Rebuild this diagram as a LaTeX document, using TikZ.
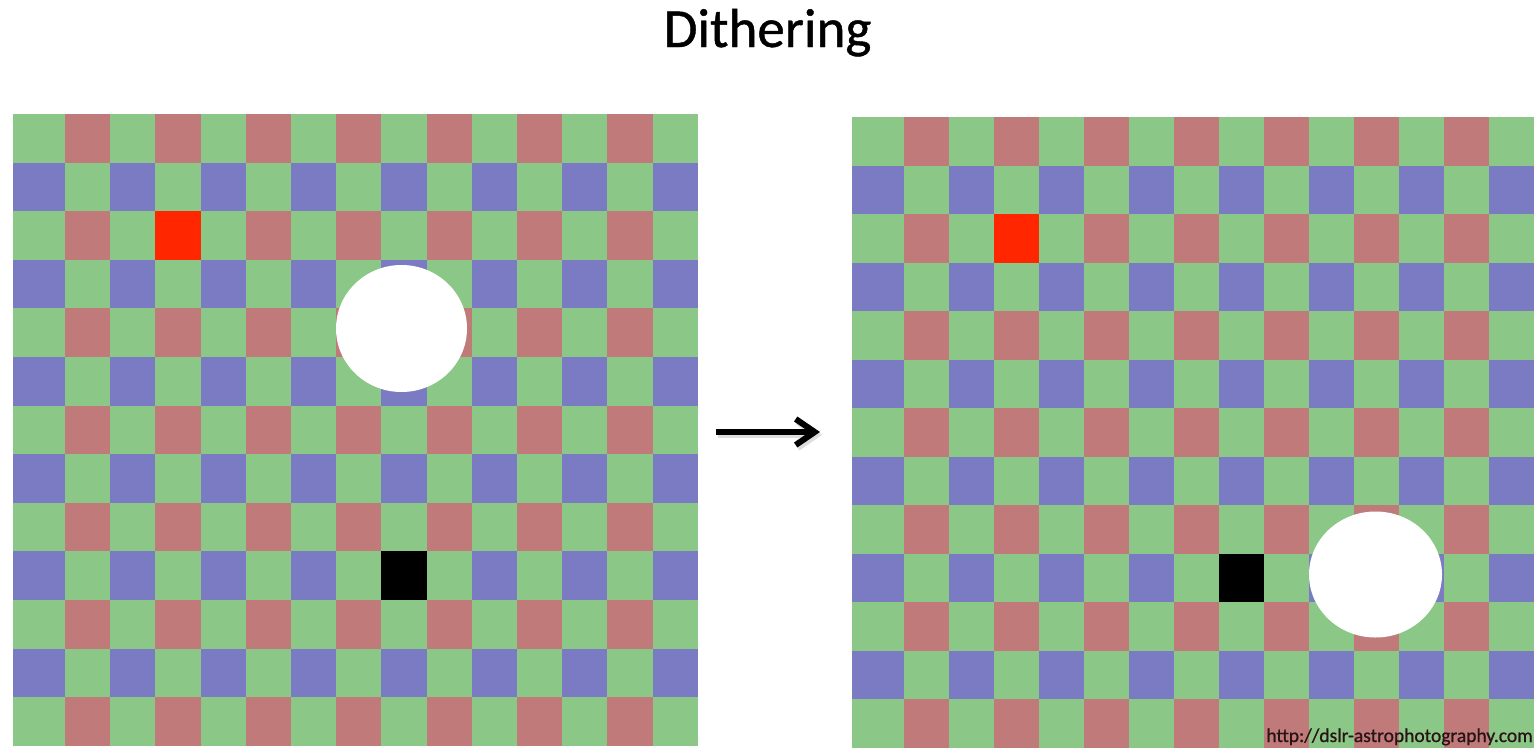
\documentclass[tikz,border=0pt]{standalone}
\usepackage{fontspec}
\setmainfont{Carlito}
\newfontfamily\heavyfont[FakeBold=0.8]{Carlito}
\usetikzlibrary{arrows.meta}
\definecolor{cg}{RGB}{139,199,134}
\definecolor{cr}{RGB}{193,122,122}
\definecolor{cb}{RGB}{123,123,196}
\definecolor{cbright}{RGB}{255,38,0}
\definecolor{wmark}{RGB}{40,20,20}
% #1 = x of left edge, #2 = x of second column edge, #3 = column width,
% #4 = y of top edge, #5 = row height
\newcommand\drawbayer[5]{%
  \foreach \r in {0,...,12}{%
    \foreach \c in {0,...,14}{%
      \pgfmathtruncatemacro\kind{mod(\r,2)*2+mod(\c,2)}%
      \pgfmathsetmacro\xa{\c==0 ? #1 : #2+(\c-1)*#3}%
      \pgfmathsetmacro\xb{#2+\c*#3}%
      \pgfmathsetmacro\ya{#4+\r*#5}%
      \pgfmathsetmacro\yb{#4+(\r+1)*#5}%
      \ifcase\kind \def\cc{cg}\or\def\cc{cr}\or\def\cc{cb}\or\def\cc{cg}\fi
      \fill[\cc] (\xa,\ya) rectangle (\xb,\yb);
    }%
  }%
}
\tikzset{
  hotpix/.style={fill=cbright},
  deadpix/.style={fill=black},
  starblob/.style={fill=white},
  shiftarrow/.style={line width=6pt,-{Straight Barb[length=19pt,width=26pt]}},
  shiftshadow/.style={shiftarrow,draw=black!25,opacity=0.5},
  titletext/.style={font=\heavyfont\fontsize{55}{60}\selectfont, anchor=base, inner sep=0pt},
  marktext/.style={font=\heavyfont\fontsize{19.5}{21}\selectfont, text=wmark, anchor=base east, inner sep=0pt}
}
\begin{document}
\begin{tikzpicture}[x=1pt,y=-1pt]
\useasboundingbox (0,0) rectangle (1534,747);
\fill[white] (0,0) rectangle (1534,747);
% left sensor
\drawbayer{13}{65}{45.2}{114}{48.6}
\fill[hotpix] (155.4,211.2) rectangle (200.6,259.8);
\fill[deadpix] (381.4,551.4) rectangle (426.6,600.0);
\fill[starblob] (401.5,328.5) ellipse [x radius=65.5, y radius=63.5];
% right sensor
\drawbayer{852}{904}{45}{117}{48.5}
\fill[hotpix] (994,214) rectangle (1039,262.5);
\fill[deadpix] (1219,553.5) rectangle (1264,602);
\fill[starblob] (1375.5,574.5) ellipse [x radius=66.5, y radius=63];
% arrow
\coordinate (arrowstart) at (716,432);
\coordinate (arrowend) at (820,432);
\coordinate (shadowstart) at (718,435);
\coordinate (shadowend) at (822,435);
\draw[shiftshadow] (shadowstart) -- (shadowend);
\draw[shiftarrow] (arrowstart) -- (arrowend);
% texts
\node[titletext] (title) at (767.5,47) {Dithering};
\node[marktext] (mark) at (1533,742) {http://dslr-astrophotography.com};
\end{tikzpicture}
\end{document}
